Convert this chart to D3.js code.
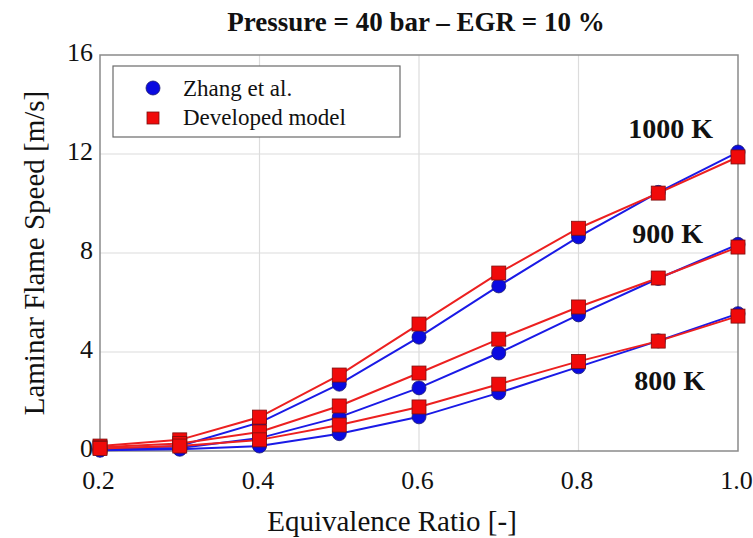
<!DOCTYPE html>
<html>
<head>
<meta charset="utf-8">
<script src="https://cdn.jsdelivr.net/npm/d3@7"></script>
<style>
  body { margin: 0; background: #fff; }
</style>
</head>
<body>
<svg id="chart" width="753" height="538"></svg>
<script>
// Equivalence ratio values
const phi = [0.2, 0.3, 0.4, 0.5, 0.6, 0.7, 0.8, 0.9, 1.0]

// Zhang et al. (blue circles)
const zhang1000 = [0.08, 0.2, 1.15, 2.7, 4.6, 6.67, 8.65, 10.45, 12.08]
const zhang900 = [0.05, 0.12, 0.52, 1.37, 2.55, 3.96, 5.5, 6.97, 8.35]
const zhang800 = [0.03, 0.07, 0.2, 0.7, 1.38, 2.35, 3.4, 4.45, 5.55]

// Developed model (red squares)
const model1000 = [0.2, 0.45, 1.37, 3.07, 5.13, 7.19, 9.0, 10.42, 11.88]
const model900 = [0.15, 0.3, 0.77, 1.82, 3.15, 4.52, 5.82, 6.99, 8.24]
const model800 = [0.1, 0.2, 0.45, 1.05, 1.78, 2.7, 3.62, 4.44, 5.45]

const xTicks = [0.2, 0.4, 0.6, 0.8, 1.0]
const yTicks = [0, 4, 8, 12, 16]

const tempLabels = [
  { text: '1000 K', x: 0.9687, y: 13.05 },
  { text: '900 K', x: 0.956, y: 8.8 },
  { text: '800 K', x: 0.9586, y: 2.87 }
]

const serif = 'Times New Roman, Times, Liberation Serif, DejaVu Serif, serif'

const margin = { top: 55, left: 100 }
const width = 638
const height = 396

const svg = d3.select('#chart')
const g = svg.append('g').attr('transform', `translate(${margin.left},${margin.top})`)

const x = d3.scaleLinear().domain([0.2, 1.0]).range([0, width])
const y = d3.scaleLinear().domain([0, 16]).range([height, 0])

// grid lines
g.selectAll('.vgrid')
  .data(xTicks.slice(1, -1))
  .join('line')
  .attr('x1', d => x(d)).attr('x2', d => x(d))
  .attr('y1', 0).attr('y2', height)
  .attr('stroke', '#dcdcdc').attr('stroke-width', 1.2)

g.selectAll('.hgrid')
  .data(yTicks.slice(1, -1))
  .join('line')
  .attr('x1', 0).attr('x2', width)
  .attr('y1', d => y(d)).attr('y2', d => y(d))
  .attr('stroke', '#dcdcdc').attr('stroke-width', 1.2)

// frame
g.append('rect')
  .attr('width', width).attr('height', height)
  .attr('fill', 'none').attr('stroke', '#8a8a8a').attr('stroke-width', 1.5)

// axes (labels only)
const xAxis = g.append('g')
  .attr('transform', `translate(0,${height})`)
  .call(d3.axisBottom(x).tickValues(xTicks).tickFormat(d3.format('.1f')).tickSize(0).tickPadding(20))
xAxis.select('.domain').remove()
xAxis.selectAll('text')
  .attr('font-family', serif).attr('font-size', 26)
  .attr('fill', '#111').attr('dx', '-2')

const yAxis = g.append('g')
  .call(d3.axisLeft(y).tickValues(yTicks).tickSize(0).tickPadding(7))
yAxis.select('.domain').remove()
yAxis.selectAll('text')
  .attr('font-family', serif).attr('font-size', 26)
  .attr('fill', '#111').attr('dy', '0.2em')

// series
const line = d3.line().x((d, i) => x(phi[i])).y(d => y(d))

const zhangSeries = [zhang1000, zhang900, zhang800]
const modelSeries = [model1000, model900, model800]

zhangSeries.forEach(s => {
  g.append('path').datum(s)
    .attr('d', line).attr('fill', 'none')
    .attr('stroke', '#1a1ae6').attr('stroke-width', 2)
})
modelSeries.forEach(s => {
  g.append('path').datum(s)
    .attr('d', line).attr('fill', 'none')
    .attr('stroke', '#ec2020').attr('stroke-width', 2)
})

zhangSeries.forEach(s => {
  g.append('g').selectAll('circle')
    .data(s)
    .join('circle')
    .attr('cx', (d, i) => x(phi[i]))
    .attr('cy', d => y(d))
    .attr('r', 7)
    .attr('fill', '#0a0ae0')
    .attr('stroke', '#1a1a70').attr('stroke-width', 0.8)
})
modelSeries.forEach(s => {
  g.append('g').selectAll('rect')
    .data(s)
    .join('rect')
    .attr('x', (d, i) => x(phi[i]) - 7)
    .attr('y', d => y(d) - 7)
    .attr('width', 14).attr('height', 14)
    .attr('fill', '#f00a0a')
    .attr('stroke', '#7a1010').attr('stroke-width', 0.8)
})

// temperature labels
g.selectAll('.temp')
  .data(tempLabels)
  .join('text')
  .attr('x', d => x(d.x))
  .attr('y', d => y(d.y))
  .attr('text-anchor', 'end')
  .attr('dy', '0.35em')
  .attr('font-family', serif)
  .attr('font-size', 28)
  .attr('font-weight', 'bold')
  .attr('fill', '#111')
  .text(d => d.text)

// legend
const legend = g.append('g').attr('transform', 'translate(13,11)')
legend.append('rect')
  .attr('width', 287).attr('height', 71)
  .attr('fill', '#fff').attr('stroke', '#6a6a6a').attr('stroke-width', 1.2)
legend.append('circle')
  .attr('cx', 40).attr('cy', 22).attr('r', 7)
  .attr('fill', '#0a0ae0').attr('stroke', '#1a1a70').attr('stroke-width', 0.8)
legend.append('rect')
  .attr('x', 34).attr('y', 46).attr('width', 12).attr('height', 12)
  .attr('fill', '#f00a0a').attr('stroke', '#7a1010').attr('stroke-width', 0.8)
legend.append('text')
  .attr('x', 70).attr('y', 22).attr('dy', '0.35em')
  .attr('font-family', serif).attr('font-size', 23)
  .attr('fill', '#111').text('Zhang  et al.')
legend.append('text')
  .attr('x', 70).attr('y', 51).attr('dy', '0.35em')
  .attr('font-family', serif).attr('font-size', 23)
  .attr('fill', '#111').text('Developed model')

// title
svg.append('text')
  .attr('x', 416).attr('y', 31)
  .attr('text-anchor', 'middle')
  .attr('font-family', serif)
  .attr('font-size', 27)
  .attr('font-weight', 'bold')
  .attr('fill', '#111')
  .text('Pressure = 40 bar – EGR = 10 %')

// axis titles
svg.append('text')
  .attr('x', 392).attr('y', 531)
  .attr('text-anchor', 'middle')
  .attr('font-family', serif)
  .attr('font-size', 29)
  .attr('fill', '#111')
  .text('Equivalence Ratio [-]')

svg.append('text')
  .attr('transform', 'translate(44,253) rotate(-90)')
  .attr('text-anchor', 'middle')
  .attr('font-family', serif)
  .attr('font-size', 29)
  .attr('fill', '#111')
  .text('Laminar Flame Speed [m/s]')
</script>
</body>
</html>
